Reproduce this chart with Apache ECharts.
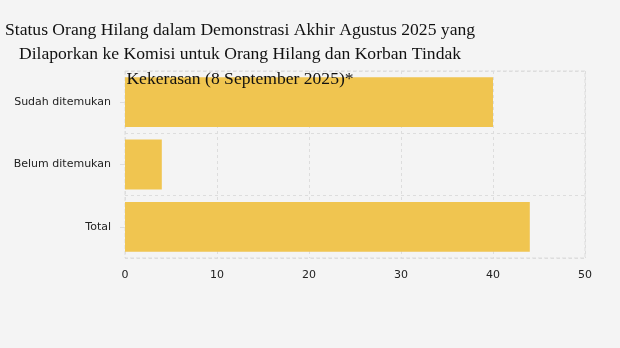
<!DOCTYPE html>
<html><head><meta charset="utf-8">
<script src="https://cdn.jsdelivr.net/npm/echarts@6/dist/echarts.min.js"></script>
<style>html,body{margin:0;padding:0;background:#f4f4f4}#c{width:620px;height:348px}</style>
</head><body><div id="c"></div>
<script>
const categories = ["Sudah ditemukan", "Belum ditemukan", "Total"];
const values = [40, 4, 44];
const xTicks = [0, 10, 20, 30, 40, 50];
const titleText = "Status Orang Hilang dalam Demonstrasi Akhir Agustus 2025 yang\nDilaporkan ke Komisi untuk Orang Hilang dan Korban Tindak\nKekerasan (8 September 2025)*";

const chart = echarts.init(document.getElementById('c'), null, {renderer: 'canvas'});
chart.setOption({
  backgroundColor: '#f4f4f4',
  animation: false,
  title: {
    text: titleText,
    left: 235, top: 13, textAlign: 'center',
    textStyle: {fontFamily: 'Liberation Serif', fontSize: 17.6, fontWeight: 'normal', color: '#111', lineHeight: 24.5}
  },
  grid: {left: 125, right: 35, top: 71, bottom: 90, containLabel: false,
    show: true, borderColor: '#dddddd', borderWidth: 1, borderType: 'dashed'},
  xAxis: {
    type: 'value', min: xTicks[0], max: xTicks[xTicks.length-1], interval: 10,
    axisLine: {show: false}, axisTick: {show: false},
    axisLabel: {color: '#222', fontFamily: 'DejaVu Sans', fontSize: 11, margin: 12},
    splitLine: {show: true, lineStyle: {color: '#dddddd', type: [3, 3]}}
  },
  yAxis: {
    type: 'category', data: categories, inverse: true,
    axisLine: {show: false},
    axisTick: {show: true, alignWithLabel: true, length: 5, lineStyle: {color: '#dddddd'}},
    axisLabel: {color: '#222', fontFamily: 'DejaVu Sans', fontSize: 11, margin: 14},
    splitLine: {show: true, lineStyle: {color: '#dddddd', type: [3, 3]}}
  },
  series: [{
    type: 'bar', data: values, barWidth: '80%',
    itemStyle: {color: '#f0c550'}
  }]
});
</script></body></html>
